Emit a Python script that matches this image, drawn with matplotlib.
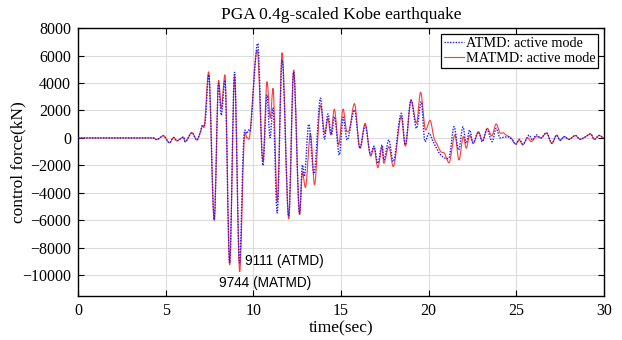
import matplotlib
matplotlib.use("Agg")
import matplotlib.pyplot as plt
from matplotlib.path import Path
from matplotlib.patches import PathPatch

# ATMD: active mode (blue dotted) - extrema
t_atmd = [0, 4.3, 4.49, 4.87, 5.22, 5.45, 5.64, 6.02, 6.11, 6.5, 6.78, 6.97, 7.1, 7.22,
          7.46, 7.77, 8.02, 8.17, 8.38, 8.65, 8.93, 9.21, 9.45, 9.64, 9.73, 9.85, 10.25,
          10.55, 10.78, 10.95, 11.12, 11.36, 11.64, 12.02, 12.30, 12.64, 12.8, 12.91,
          13.16, 13.46, 13.83, 14.06, 14.25, 14.46, 14.62, 14.91, 15.12, 15.35, 15.77,
          16.08, 16.38, 16.69, 16.88, 17.1, 17.35, 17.44, 17.73, 17.98, 18.44, 18.67,
          18.99, 19.31, 19.58, 19.79, 20.02, 20.3, 20.69, 21.07, 21.2, 21.45, 21.71,
          21.96, 22.14, 22.34, 22.53, 22.84, 23.06, 23.33, 23.62, 23.85, 24.08, 24.27,
          24.5, 24.75, 24.97, 25.17, 25.37, 25.74, 25.9, 26.15, 26.4, 26.72, 27.03,
          27.3, 27.5, 27.73, 28.0, 28.37, 28.64, 28.9, 29.24, 29.45, 29.73, 30]
f_atmd = [0, 0, -120, 150, -350, 30, -200, 60, -270, 380, -145, 390, 920, 920,
          4600, -5950, 4000, 1650, 4200, -9100, 4800, -9111, -150, 340, 580, 700, 6880,
          -2000, 3150, 0, 2200, -5480, 5700, -5700, 4800, -5500, -1960, -2800,
          1000, -2600, 2900, -100, 1750, 250, 1550, -1240, 1500, -145, 2040,
          -750, 900, -1200, -600, -1840, -510, -1600, -145, -1720, 1790, -500,
          2760, 700, 2640, -270, 340, -390, -1240, -1500, -1300, 820, -870,
          800, -390, 580, -350, 420, -270, 620, -270, 700, 0, 50,
          80, -100, -450, -100, -450, 200, -150, 220, 0, 380, -390,
          200, -170, 100, -100, 180, -100, 50, 290, -100, 180, 0]

# MATMD: active mode (red solid)
t_matmd = [0, 4.3, 4.49, 4.87, 5.22, 5.45, 5.64, 6.02, 6.11, 6.5, 6.78, 6.97, 7.1, 7.22,
           7.45, 7.77, 8.02, 8.17, 8.38, 8.65, 8.93, 9.22, 9.47, 9.65, 9.8, 10.22,
           10.55, 10.78, 10.97, 11.12, 11.37, 11.64, 12.02, 12.30, 12.64, 12.8, 12.97,
           13.26, 13.49, 13.83, 14.08, 14.25, 14.42, 14.62, 14.87, 15.12, 15.34, 15.48,
           15.77, 16.08, 16.38, 16.69, 16.88, 17.1, 17.35, 17.44, 17.73, 17.98, 18.44,
           18.67, 19.0, 19.31, 19.54, 19.83, 20.08, 20.31, 20.5, 20.69, 20.9, 21.16,
           21.5, 21.73, 21.98, 22.15, 22.34, 22.55, 22.84, 23.07, 23.35, 23.6, 23.85,
           24.1, 24.25, 24.4, 24.7, 24.97, 25.17, 25.37, 25.64, 25.85, 26.14, 26.4,
           26.72, 27.03, 27.3, 27.5, 27.73, 28.0, 28.37, 28.64, 28.9, 29.24, 29.45,
           29.73, 30]
f_matmd = [0, 0, -120, 160, -360, 30, -200, 60, -270, 390, -145, 390, 900, 950,
           4820, -6000, 4200, 2150, 4600, -9250, 4500, -9744, -300, 0, 200, 6400,
           -1700, 4100, 1430, 3610, -4650, 6200, -5900, 4950, -5600, -2500, -3600,
           340, -3400, 2400, 340, 1430, 220, 2100, -510, 2100, 460, 600,
           2500, -750, 1070, -1330, -700, -2150, -630, -1840, -630, -2080, 1550,
           -600, 2760, 1070, 3330, 580, 1280, -20, -510, -1000, -1110, -1800,
           220, -1600, 100, -750, 200, -400, 460, -200, 700, 150, 1020,
           340, 380, 220, 0, -450, -145, -510, 20, -270, 100, 0,
           360, -390, 200, -170, 100, -100, 180, -100, 50, 290, -100,
           180, 0]

serif = "Liberation Serif"


def smooth_path(t, v):
    # cubic bezier segments through the read points, flat at the peaks
    n = len(t)
    m = []
    for i in range(n):
        if i == 0 or i == n - 1:
            m.append(0.0)
            continue
        d1 = v[i] - v[i - 1]
        d2 = v[i + 1] - v[i]
        if d1 * d2 <= 0:
            m.append(0.0)
        else:
            m.append((v[i + 1] - v[i - 1]) / (t[i + 1] - t[i - 1]))
    verts = [(t[0], v[0])]
    codes = [Path.MOVETO]
    for i in range(n - 1):
        dt = t[i + 1] - t[i]
        verts += [(t[i] + dt / 3, v[i] + m[i] * dt / 3),
                  (t[i + 1] - dt / 3, v[i + 1] - m[i + 1] * dt / 3),
                  (t[i + 1], v[i + 1])]
        codes += [Path.CURVE4] * 3
    return Path(verts, codes)


fig = plt.figure(figsize=(6.22, 3.40), dpi=100)
ax = fig.add_axes([0.1254, 0.1294, 0.8456, 0.7882])

red_kw = dict(color="#ff3a3a", lw=0.8)
blue_kw = dict(color="#1a1aff", lw=1.0, ls=(0, (1, 1)))

ax.add_patch(PathPatch(smooth_path(t_matmd, f_matmd), fill=False, zorder=2,
                       edgecolor=red_kw["color"], lw=red_kw["lw"]))
ax.add_patch(PathPatch(smooth_path(t_atmd, f_atmd), fill=False, zorder=3,
                       edgecolor=blue_kw["color"], lw=blue_kw["lw"], ls=blue_kw["ls"]))
h_atmd, = ax.plot([], [], label="ATMD: active mode", **blue_kw)
h_matmd, = ax.plot([], [], label="MATMD: active mode", **red_kw)

ax.set_xlim(0, 30)
ax.set_ylim(-11500, 8000)
ax.set_xticks(range(0, 31, 5))
ax.set_yticks(range(-10000, 8001, 2000))
ax.grid(True, color="#dcdcdc", lw=0.8)
ax.set_axisbelow(True)
ax.tick_params(direction="in", top=True, right=True, length=4.5, width=0.8,
               labelsize=11.5, pad=5)
for lab in ax.get_xticklabels() + ax.get_yticklabels():
    lab.set_fontfamily(serif)
for s in ax.spines.values():
    s.set_linewidth(1.0)

ax.set_title("PGA 0.4g-scaled Kobe earthquake", family=serif, fontsize=12.5, pad=6.5)
ax.set_xlabel("time(sec)", family=serif, fontsize=12.5, labelpad=1)
ax.set_ylabel("control force(kN)", family=serif, fontsize=12.5, labelpad=-3)

ax.text(9.54, -8940, "9111 (ATMD)", family="Liberation Sans", fontsize=9.8, va="center")
ax.text(8.06, -10540, "9744 (MATMD)", family="Liberation Sans", fontsize=9.8, va="center")

leg = ax.legend([h_atmd, h_matmd], ["ATMD: active mode", "MATMD: active mode"],
                loc="upper right", prop={"family": serif, "size": 10.3},
                fancybox=False, framealpha=1, edgecolor="black", handlelength=1.4,
                handletextpad=0.15, borderpad=0.2, labelspacing=0.2, borderaxespad=0.4)
leg.get_frame().set_linewidth(0.9)

fig.savefig("out.png", dpi=100)
